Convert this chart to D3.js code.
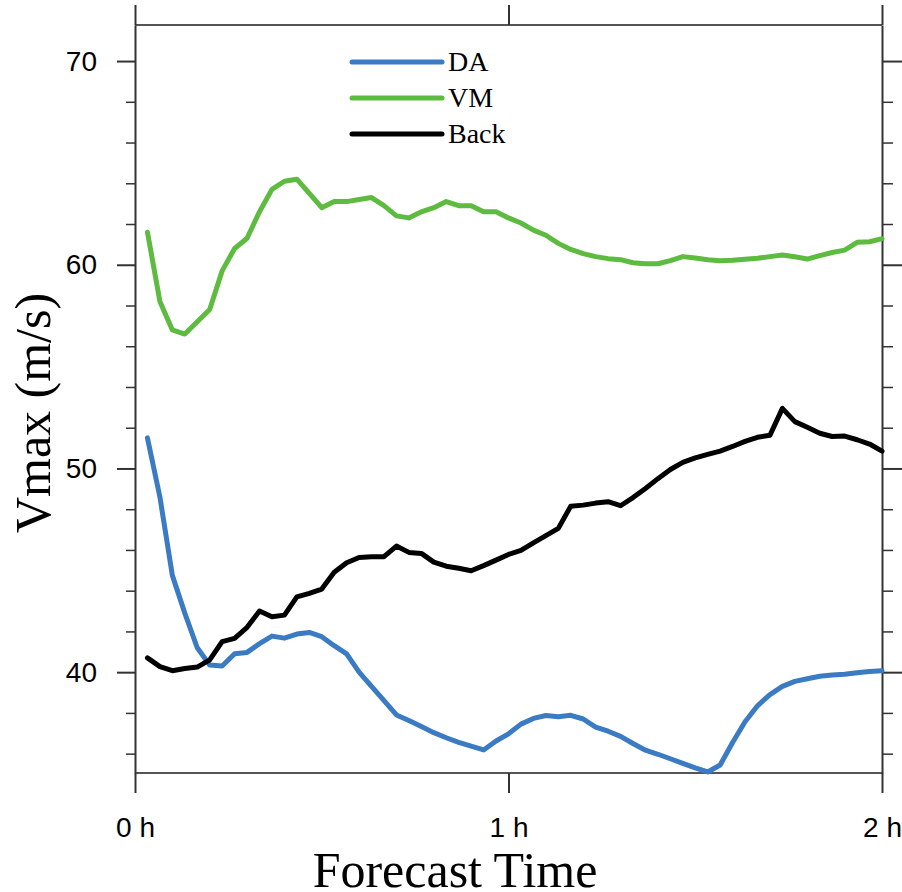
<!DOCTYPE html>
<html>
<head>
<meta charset="utf-8">
<script src="https://cdn.jsdelivr.net/npm/d3@7/dist/d3.min.js"></script>
<style>
  html, body { margin: 0; padding: 0; background: #fff; }
  svg { display: block; }
</style>
</head>
<body>
<div id="chart"></div>
<script>
// forecast minutes (2-min output)
const minutes = [2, 4, 6, 8, 10, 12, 14, 16, 18, 20, 22, 24, 26, 28, 30, 32, 34, 36, 38, 40,
    42, 44, 46, 48, 50, 52, 54, 56, 58, 60, 62, 64, 66, 68, 70, 72, 74, 76, 78, 80,
    82, 84, 86, 88, 90, 92, 94, 96, 98, 100, 102, 104, 106, 108, 110, 112, 114, 116, 118, 120];

const daValues = [51.5, 48.6, 44.75, 42.9, 41.2, 40.35, 40.3, 40.9, 40.97, 41.4,
    41.77, 41.67, 41.87, 41.95, 41.74, 41.3, 40.9, 40.0, 39.3, 38.6,
    37.9, 37.63, 37.33, 37.03, 36.78, 36.55, 36.37, 36.18, 36.62, 36.97,
    37.45, 37.73, 37.87, 37.81, 37.88, 37.7, 37.3, 37.1, 36.85, 36.5,
    36.17, 35.97, 35.75, 35.52, 35.3, 35.1, 35.44, 36.55, 37.57, 38.35,
    38.9, 39.3, 39.55, 39.68, 39.8, 39.86, 39.9, 39.97, 40.03, 40.07];

const vmValues = [61.6, 58.2, 56.8, 56.6, 57.2, 57.8, 59.7, 60.8, 61.3, 62.6,
    63.7, 64.1, 64.2, 63.5, 62.8, 63.1, 63.1, 63.2, 63.3, 62.9,
    62.4, 62.3, 62.6, 62.8, 63.1, 62.9, 62.9, 62.6, 62.6, 62.3,
    62.05, 61.7, 61.45, 61.05, 60.75, 60.55, 60.4, 60.3, 60.25, 60.1,
    60.05, 60.05, 60.2, 60.4, 60.33, 60.25, 60.2, 60.22, 60.27, 60.32,
    60.4, 60.48, 60.39, 60.28, 60.45, 60.6, 60.72, 61.1, 61.13, 61.28];

const backValues = [40.7, 40.27, 40.07, 40.18, 40.25, 40.6, 41.5, 41.66, 42.2, 43.0,
    42.72, 42.8, 43.7, 43.87, 44.08, 44.9, 45.37, 45.63, 45.67, 45.67,
    46.19, 45.88, 45.83, 45.4, 45.2, 45.1, 44.98, 45.23, 45.5, 45.78,
    45.98, 46.35, 46.7, 47.06, 48.15, 48.2, 48.3, 48.37, 48.17, 48.57,
    49.02, 49.5, 49.95, 50.3, 50.52, 50.69, 50.85, 51.08, 51.33, 51.53,
    51.63, 52.95, 52.3, 52.02, 51.73, 51.57, 51.59, 51.41, 51.2, 50.85];

const seriesNames = ['DA', 'VM', 'Back'];
const seriesColors = ['#3a7bc3', '#5dbb3f', '#000000'];

const xTicks = [0, 1, 2];
const xTickLabels = ['0 h', '1 h', '2 h'];
const yMajorTicks = [40, 50, 60, 70];
const yMinorTicks = [36, 38, 42, 44, 46, 48, 52, 54, 56, 58, 62, 64, 66, 68];

const width = 902;
const height = 892;
const margin = { top: 25, right: 20, bottom: 119, left: 135 };
const innerWidth = width - margin.left - margin.right;
const innerHeight = height - margin.top - margin.bottom;

const svg = d3.select('#chart')
    .append('svg')
    .attr('width', width)
    .attr('height', height);

const g = svg.append('g')
    .attr('transform', `translate(${margin.left},${margin.top})`);

const x = d3.scaleLinear().domain([0, 2]).range([0, innerWidth]);
const y = d3.scaleLinear().domain([35.05, 71.77]).range([innerHeight, 0]);

const tickFont = '"Liberation Sans", Arial, Helvetica, sans-serif';
const serifFont = '"Liberation Serif", "Times New Roman", serif';

function styleAxis(sel, width) {
    sel.select('.domain').attr('stroke', '#333').attr('stroke-width', 2);
    sel.selectAll('.tick line').attr('stroke', '#333').attr('stroke-width', width);
    sel.selectAll('.tick text')
        .attr('fill', '#000')
        .style('font-family', tickFont)
        .style('font-size', '28px');
}

// frame lines
g.append('line').attr('x1', 0).attr('x2', innerWidth).attr('y1', 0).attr('y2', 0)
    .attr('stroke', '#555').attr('stroke-width', 2);
g.append('line').attr('x1', 0).attr('x2', innerWidth).attr('y1', innerHeight).attr('y2', innerHeight)
    .attr('stroke', '#555').attr('stroke-width', 2);

// x axes (outward ticks on top and bottom)
g.append('g')
    .attr('transform', `translate(0,${innerHeight})`)
    .call(d3.axisBottom(x).tickValues(xTicks).tickSize(20).tickSizeOuter(0).tickPadding(24)
        .tickFormat((d, i) => xTickLabels[i]))
    .call(s => s.select('.domain').remove())
    .call(s => styleAxis(s, 2));

g.append('g')
    .call(d3.axisTop(x).tickValues(xTicks).tickSize(20).tickSizeOuter(0).tickFormat(''))
    .call(s => s.select('.domain').remove())
    .call(s => styleAxis(s, 2));

// y axes
g.append('g')
    .call(d3.axisLeft(y).tickValues(yMajorTicks).tickSize(18).tickSizeOuter(0).tickPadding(20)
        .tickFormat(d3.format('d')))
    .call(s => styleAxis(s, 2));

g.append('g')
    .call(d3.axisLeft(y).tickValues(yMinorTicks).tickSize(9).tickSizeOuter(0).tickFormat(''))
    .call(s => s.select('.domain').remove())
    .call(s => styleAxis(s, 1.5));

g.append('g')
    .attr('transform', `translate(${innerWidth},0)`)
    .call(d3.axisRight(y).tickValues(yMajorTicks).tickSize(20).tickSizeOuter(0).tickFormat(''))
    .call(s => styleAxis(s, 2));

g.append('g')
    .attr('transform', `translate(${innerWidth},0)`)
    .call(d3.axisRight(y).tickValues(yMinorTicks).tickSize(11).tickSizeOuter(0).tickFormat(''))
    .call(s => s.select('.domain').remove())
    .call(s => styleAxis(s, 1.5));

// series lines
const line = d3.line()
    .x(d => x(d[0] / 60))
    .y(d => y(d[1]));

[daValues, vmValues, backValues].forEach((vals, i) => {
    g.append('path')
        .datum(minutes.map((m, j) => [m, vals[j]]))
        .attr('fill', 'none')
        .attr('stroke', seriesColors[i])
        .attr('stroke-width', 5)
        .attr('stroke-linejoin', 'round')
        .attr('stroke-linecap', 'round')
        .attr('d', line);
});

// legend
seriesNames.forEach((name, i) => {
    const ly = 62 + i * 36;
    svg.append('line')
        .attr('x1', 352).attr('x2', 442)
        .attr('y1', ly).attr('y2', ly)
        .attr('stroke', seriesColors[i])
        .attr('stroke-width', 5)
        .attr('stroke-linecap', 'round');
    svg.append('text')
        .attr('x', 448)
        .attr('y', ly + 9)
        .attr('fill', '#000')
        .style('font-family', serifFont)
        .style('font-size', '28px')
        .text(name);
});

// axis titles
svg.append('text')
    .attr('x', 455)
    .attr('y', 887)
    .attr('text-anchor', 'middle')
    .attr('fill', '#000')
    .style('font-family', serifFont)
    .style('font-size', '50px')
    .text('Forecast Time');

svg.append('text')
    .attr('transform', 'translate(50,413) rotate(-90)')
    .attr('text-anchor', 'middle')
    .attr('fill', '#000')
    .style('font-family', serifFont)
    .style('font-size', '50px')
    .text('Vmax (m/s)');
</script>
</body>
</html>
